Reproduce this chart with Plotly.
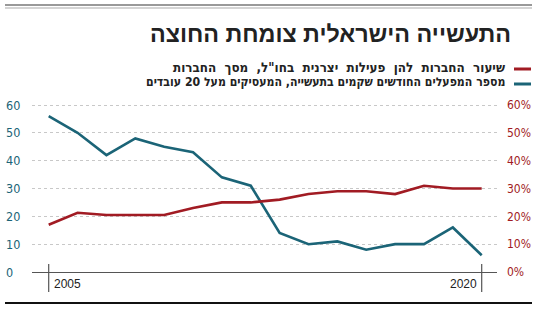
import plotly.graph_objects as go

years = list(range(2005, 2021))
new_factories = [56, 50, 42, 48, 45, 43, 34, 31, 14, 10, 11, 8, 10, 10, 16, 6]
abroad_share = [17, 21.3, 20.5, 20.5, 20.5, 23, 25, 25, 26, 28, 29, 29, 28, 31, 30, 30]
left_ticks = [0, 10, 20, 30, 40, 50, 60]
right_ticks = [0, 10, 20, 30, 40, 50, 60]
right_labels = ["0%", "10%", "20%", "30%", "40%", "50%", "60%"]
title = "התעשייה הישראלית צומחת החוצה"
legend_red = 'שיעור החברות להן פעילות יצרנית בחו"ל, מסך החברות'
legend_blue = "מספר המפעלים החודשים שקמים בתעשייה, המעסיקים מעל 20 עובדים"

W, H = 550, 309
L, R, T, B = 32, 497, 100, 272
PW, PH = R - L, B - T

def px(x):
    return (x - L) / PW

def py(y):
    return (B - y) / PH

TEAL = "#1b6477"
RED = "#a11b23"

fig = go.Figure()
fig.add_trace(go.Scatter(x=years, y=new_factories, mode="lines",
                         line=dict(color=TEAL, width=2.6), yaxis="y", hoverinfo="skip"))
fig.add_trace(go.Scatter(x=years, y=abroad_share, mode="lines",
                         line=dict(color=RED, width=2.6), yaxis="y2", hoverinfo="skip"))

yr = [0, 61.8]
fig.update_layout(
    width=W, height=H,
    margin=dict(l=L, r=W - R, t=T, b=H - B, pad=0),
    paper_bgcolor="white", plot_bgcolor="white",
    showlegend=False,
    xaxis=dict(range=[2005 - (48.7 - L) / 28.87, 2020 + (R - 481.7) / 28.87],
               showgrid=False, zeroline=False, showticklabels=False, ticks="",
               showline=True, linecolor="#555", linewidth=1.2, fixedrange=True),
    yaxis=dict(range=yr, tickvals=left_ticks, showticklabels=False, ticks="",
               showgrid=True, gridcolor="#c8c8c8", griddash="dot", gridwidth=1,
               zeroline=False, fixedrange=True),
    yaxis2=dict(range=yr, overlaying="y", side="right", tickvals=right_ticks,
                ticktext=right_labels, showgrid=False, zeroline=False, ticks="",
                ticklabelstandoff=9,
                tickfont=dict(family="DejaVu Sans Condensed", size=12, color=RED),
                fixedrange=True),
)

ann = []
for v in left_ticks:
    ann.append(dict(x=px(4), xref="paper", y=v, yref="y", text=str(v), showarrow=False,
                    xanchor="left", yanchor="middle",
                    font=dict(family="DejaVu Sans Condensed", size=12.5, color=TEAL)))
ann.append(dict(x=2005, xref="x", y=py(284), yref="paper", text="2005", showarrow=False,
                xanchor="left", xshift=3, yanchor="middle",
                font=dict(family="Liberation Sans", size=12, color="#222")))
ann.append(dict(x=2020, xref="x", y=py(284), yref="paper", text="2020", showarrow=False,
                xanchor="right", xshift=-3, yanchor="middle",
                font=dict(family="Liberation Sans", size=12, color="#222")))
ann.append(dict(x=px(513), xref="paper", y=py(34), yref="paper", text="<b>" + title + "</b>",
                showarrow=False, xanchor="right", yanchor="middle",
                font=dict(family="Liberation Sans", size=23.3, color="#222")))
legend_red_txt = legend_red.replace(" ", "\u00a0\u00a0")
ann.append(dict(x=px(507), xref="paper", y=py(67.5), yref="paper", text="<b>" + legend_red_txt + "</b>",
                showarrow=False, xanchor="right", yanchor="middle",
                font=dict(family="DejaVu Sans Condensed", size=13.3, color="#222")))
ann.append(dict(x=px(507), xref="paper", y=py(81.5), yref="paper", text="<b>" + legend_blue + "</b>",
                showarrow=False, xanchor="right", yanchor="middle",
                font=dict(family="DejaVu Sans Condensed", size=12.2, color="#222")))
fig.update_layout(annotations=ann)

shapes = [
    dict(type="line", xref="paper", yref="paper", x0=px(5), x1=px(532), y0=py(5), y1=py(5),
         line=dict(color="#999", width=2)),
    dict(type="line", xref="paper", yref="paper", x0=px(5), x1=px(532), y0=py(8), y1=py(8),
         line=dict(color="#aaa", width=1.2)),
    dict(type="line", xref="paper", yref="paper", x0=px(5), x1=px(532), y0=py(303), y1=py(303),
         line=dict(color="#111", width=2)),
    dict(type="line", xref="paper", yref="paper", x0=px(514), x1=px(531), y0=py(69), y1=py(69),
         line=dict(color=RED, width=3)),
    dict(type="line", xref="paper", yref="paper", x0=px(514), x1=px(531), y0=py(84), y1=py(84),
         line=dict(color=TEAL, width=3)),
    dict(type="line", xref="x", yref="paper", x0=2005, x1=2005, y0=py(264), y1=py(292),
         line=dict(color="#555", width=1.2)),
    dict(type="line", xref="x", yref="paper", x0=2020, x1=2020, y0=py(264), y1=py(292),
         line=dict(color="#555", width=1.2)),
]
fig.update_layout(shapes=shapes)

fig.write_html("out.html")
